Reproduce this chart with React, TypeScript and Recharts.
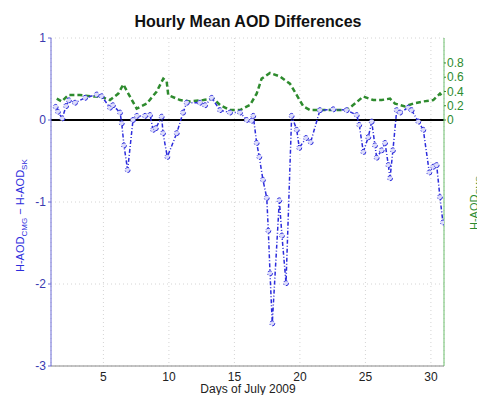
import React from 'react';
import { LineChart, Line, XAxis, YAxis, CartesianGrid, ReferenceLine } from 'recharts';

// H-AOD_CMG - H-AOD_SK (left axis)
const diffDays = [
  1.36, 1.53, 1.86, 2.15, 2.37, 2.83, 3.6, 4.49, 4.87, 5.5, 5.73, 6.27, 6.4, 6.57, 6.85,
  7.26, 7.56, 8.18, 8.56, 8.79, 9.0, 9.45, 9.55, 9.88, 10.6, 11.08, 11.36, 12.37, 12.76,
  13.27, 13.9, 14.66, 15.43, 15.94, 16.32, 16.44, 16.7, 16.9, 17.18, 17.47, 17.59, 17.72,
  17.89, 18.43, 18.63, 18.94, 19.37, 19.76, 19.95, 20.47, 20.82, 21.53, 22.55, 23.57,
  24.34, 24.53, 24.84, 25.22, 25.48, 25.73, 25.86, 26.24, 26.5, 26.75, 26.88, 27.1, 27.39,
  27.64, 28.27, 28.53, 29.04, 29.42, 29.88, 30.18, 30.44, 30.69, 30.92,
];
const diffValues = [
  0.16, 0.1, 0.02, 0.17, 0.24, 0.21, 0.27, 0.31, 0.29, 0.15, 0.18, 0.09, -0.04, -0.31, -0.61,
  0.0, 0.05, 0.05, 0.06, -0.12, -0.1, 0.04, -0.16, -0.45, -0.16, 0.09, 0.21, 0.21, 0.18,
  0.27, 0.12, 0.09, 0.09, 0.0, -0.01, 0.05, -0.28, -0.45, -0.73, -0.95, -1.35, -1.87,
  -2.48, -0.98, -1.41, -1.99, 0.05, -0.12, -0.34, -0.22, -0.27, 0.12, 0.13, 0.12,
  0.06, -0.06, -0.39, -0.21, -0.02, -0.31, -0.46, -0.37, -0.28, -0.55, -0.71, -0.37, 0.12,
  0.09, 0.15, 0.12, -0.02, -0.12, -0.64, -0.57, -0.55, -0.94, -1.25,
];

// H-AOD_CMG (right axis)
const cmgDays = [
  1.44, 1.82, 2.32, 3.21, 4.23, 4.74, 5.5, 6.14, 6.52, 6.9, 7.54, 8.31, 9.07, 9.57, 9.83,
  9.95, 10.85, 11.61, 12.63, 13.39, 13.9, 14.66, 15.43, 16.19, 16.7, 17.08, 17.72, 18.48,
  19.24, 19.76, 20.26, 20.77, 21.53, 23.57, 24.2, 24.84, 25.6, 26.24, 26.88, 27.26, 28.02,
  28.66, 29.42, 30.18, 30.69, 30.92,
];
const cmgValues = [
  0.3, 0.26, 0.35, 0.35, 0.33, 0.33, 0.28, 0.37, 0.5, 0.37, 0.16, 0.23, 0.4, 0.58, 0.54,
  0.35, 0.28, 0.26, 0.28, 0.3, 0.21, 0.14, 0.14, 0.21, 0.37, 0.58, 0.66, 0.61,
  0.51, 0.35, 0.19, 0.14, 0.14, 0.14, 0.23, 0.33, 0.28, 0.28, 0.3, 0.23, 0.19,
  0.23, 0.26, 0.28, 0.37, 0.32,
];

const dayTicks = [5, 10, 15, 20, 25, 30];
const leftTicks = [-3, -2, -1, 0, 1];
const rightTicks = [0, 0.2, 0.4, 0.6, 0.8];

const diffData = diffDays.map((d, i) => ({ day: d, diff: diffValues[i] }));
const cmgData = cmgDays.map((d, i) => ({ day: d, cmg: cmgValues[i] }));

const BLUE = '#2c2cdc';
const GREEN = '#2e8b2e';
const FONT = '"Liberation Sans", Arial, sans-serif';

// title and x label drawn together from the bottom axis label slot
const XLabel = () => (
  <g>
    <text x={248} y={27} textAnchor="middle" fontFamily={FONT} fontSize={16} fontWeight="bold" fill="#111">
      Hourly Mean AOD Differences
    </text>
    <text x={248} y={393} textAnchor="middle" fontFamily={FONT} fontSize={12} fill="#222">
      Days of July 2009
    </text>
  </g>
);

const LeftLabel = () => (
  <text x={24} y={272} transform="rotate(-90, 24, 272)" fontFamily={FONT} fontSize={11} fill={BLUE}>
    <tspan>H-AOD</tspan>
    <tspan dy={3} fontSize={8}>CMG</tspan>
    <tspan dy={-3}> − H-AOD</tspan>
    <tspan dy={3} fontSize={8}>SK</tspan>
  </text>
);

const RightLabel = () => (
  <text x={478} y={230} transform="rotate(-90, 478, 230)" fontFamily={FONT} fontSize={11} fill={GREEN}>
    <tspan>H-AOD</tspan>
    <tspan dy={3} fontSize={8}>CMG</tspan>
  </text>
);

export default function App() {
  return (
    <div style={{ position: 'absolute', left: 0, top: 0, background: '#fff' }}>
      <LineChart width={477} height={395} margin={{ top: 38, right: 0, bottom: 0, left: 0 }}>
        <CartesianGrid
          xAxisId="bottom"
          yAxisId="left"
          stroke="#d4d4d4"
          strokeDasharray="1 3"
        />
        <XAxis
          xAxisId="bottom"
          dataKey="day"
          type="number"
          domain={[1, 31]}
          ticks={dayTicks}
          interval={0}
          allowDataOverflow
          height={29}
          tickLine={false}
          tickSize={4}
          tickMargin={2}
          axisLine={{ stroke: '#888' }}
          tick={{ fill: '#222', fontSize: 12, fontFamily: FONT }}
          label={<XLabel />}
        />
        <XAxis
          xAxisId="top"
          orientation="top"
          dataKey="day"
          type="number"
          domain={[1, 31]}
          ticks={dayTicks}
          height={0}
          tick={false}
          tickLine={false}
          axisLine={{ stroke: '#999' }}
        />
        <YAxis
          yAxisId="left"
          type="number"
          domain={[-3, 1]}
          ticks={leftTicks}
          interval={0}
          width={51}
          tickSize={3}
          tickMargin={2}
          axisLine={{ stroke: '#6a6ad8' }}
          tickLine={{ stroke: '#6a6ad8' }}
          tick={{ fill: '#3a3ab0', fontSize: 12, fontFamily: FONT }}
          label={<LeftLabel />}
        />
        <YAxis
          yAxisId="right"
          orientation="right"
          type="number"
          domain={[-3.45, 1.15]}
          ticks={rightTicks}
          interval={0}
          width={33}
          tickSize={2}
          tickMargin={1}
          axisLine={{ stroke: '#6cbf6c' }}
          tickLine={{ stroke: GREEN }}
          tick={{ fill: GREEN, fontSize: 12, fontFamily: FONT, textAnchor: 'start' }}
          label={<RightLabel />}
        />
        <ReferenceLine xAxisId="bottom" yAxisId="left" y={0} stroke="#000" strokeWidth={2} />
        <Line
          xAxisId="bottom"
          yAxisId="right"
          data={cmgData}
          dataKey="cmg"
          type="linear"
          stroke={GREEN}
          strokeWidth={2.5}
          strokeDasharray="5 3"
          dot={false}
          isAnimationActive={false}
        />
        <Line
          xAxisId="bottom"
          yAxisId="left"
          data={diffData}
          dataKey="diff"
          type="linear"
          stroke={BLUE}
          strokeWidth={1.5}
          strokeDasharray="4 2 1 2"
          dot={{ r: 2.5, stroke: BLUE, fill: '#dcdcfa', strokeWidth: 1 }}
          isAnimationActive={false}
        />
      </LineChart>
    </div>
  );
}
